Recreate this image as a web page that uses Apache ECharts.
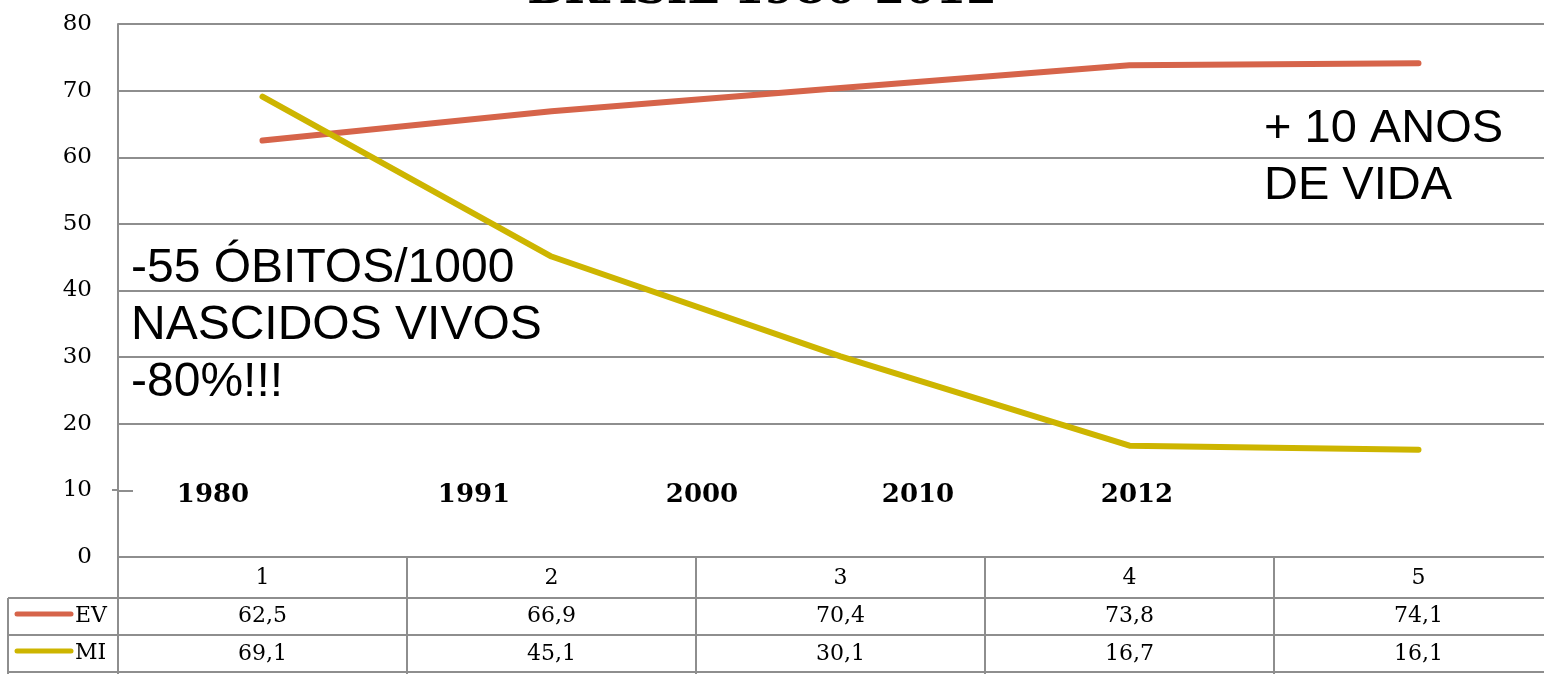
<!DOCTYPE html>
<html>
<head>
<meta charset="utf-8">
<script src="https://cdn.jsdelivr.net/npm/echarts@6/dist/echarts.min.js"></script>
<style>html,body{margin:0;padding:0;background:#fff}#c{width:1544px;height:674px}</style>
</head>
<body>
<div id="c"></div>
<script>
const categories = ['1', '2', '3', '4', '5'];
const ev = [62.5, 66.9, 70.4, 73.8, 74.1];
const mi = [69.1, 45.1, 30.1, 16.7, 16.1];
const years = ['1980', '1991', '2000', '2010', '2012'];
const yTicks = {min: 0, max: 80, interval: 10};
const title = 'BRASIL 1980-2012';

const EVC = '#D6644A', MIC = '#CDB500', GRID = '#8E8E8E';
const serif = '"DejaVu Serif", "Liberation Serif", serif';
const sans = '"Liberation Sans", Arial, sans-serif';
const fmt = v => String(v).replace('.', ',');

const chart = echarts.init(document.getElementById('c'));
const yearX = [213, 474, 702, 918, 1137];

const graphics = [
  {type: 'text', style: {text: title, x: 762, y: 14, align: 'center', verticalAlign: 'bottom', font: 'bold 44px ' + serif, fill: '#000'}},
  {type: 'rect', shape: {x: 133, y: 482, width: 1411, height: 18}, style: {fill: '#fff'}, z: 10},
  {type: 'line', shape: {x1: 112, y1: 490, x2: 118, y2: 490}, style: {stroke: GRID, lineWidth: 2}, z: 10},
  {type: 'line', shape: {x1: 8, y1: 598, x2: 1544, y2: 598}, style: {stroke: GRID, lineWidth: 2}, z: 10},
  {type: 'line', shape: {x1: 8, y1: 635, x2: 1544, y2: 635}, style: {stroke: GRID, lineWidth: 2}, z: 10},
  {type: 'line', shape: {x1: 8, y1: 672, x2: 1544, y2: 672}, style: {stroke: GRID, lineWidth: 2}, z: 10},
  {type: 'line', shape: {x1: 8, y1: 598, x2: 8, y2: 674}, style: {stroke: GRID, lineWidth: 2}, z: 10},
  {type: 'line', shape: {x1: 17, y1: 614, x2: 71, y2: 614}, style: {stroke: EVC, lineWidth: 5, lineCap: 'round'}, z: 10},
  {type: 'line', shape: {x1: 17, y1: 651, x2: 71, y2: 651}, style: {stroke: MIC, lineWidth: 5, lineCap: 'round'}, z: 10},
  {type: 'text', style: {text: 'EV', x: 75, y: 616, verticalAlign: 'middle', font: '22px ' + serif, fill: '#000'}, z: 10},
  {type: 'text', style: {text: 'MI', x: 75, y: 653, verticalAlign: 'middle', font: '22px ' + serif, fill: '#000'}, z: 10},
  {type: 'text', style: {text: '-55 ÓBITOS/1000\nNASCIDOS VIVOS\n-80%!!!', x: 131, y: 240, lineHeight: 57, font: '48px ' + sans, fill: '#000'}, z: 10},
  {type: 'text', style: {text: '+ 10 ANOS\nDE VIDA', x: 1264, y: 101, lineHeight: 57, font: '47px ' + sans, fill: '#000'}, z: 10}
];
years.forEach((y, i) => graphics.push({type: 'text', style: {text: y, x: yearX[i], y: 495, align: 'center', verticalAlign: 'middle', font: 'bold 26px ' + serif, fill: '#000'}, z: 11}));

chart.setOption({
  animation: false,
  grid: {left: 118, top: 24, width: 1445, height: 533, outerBoundsMode: 'none', containLabel: false},
  xAxis: {
    type: 'category', data: categories, boundaryGap: true,
    axisLine: {show: true, lineStyle: {color: GRID, width: 2}},
    axisTick: {show: true, length: 118, lineStyle: {color: GRID, width: 2}},
    axisLabel: {
      margin: 2, lineHeight: 38, fontFamily: serif, fontSize: 22, color: '#000', interval: 0,
      formatter: (v, i) => v + '\n' + fmt(ev[i]) + '\n' + fmt(mi[i])
    }
  },
  yAxis: {
    type: 'value', min: yTicks.min, max: yTicks.max, interval: yTicks.interval,
    axisLine: {show: true, lineStyle: {color: GRID, width: 2}},
    axisTick: {show: false},
    splitLine: {show: true, lineStyle: {color: GRID, width: 2}},
    axisLabel: {margin: 26, fontFamily: serif, fontSize: 23, color: '#000'}
  },
  series: [
    {name: 'EV', type: 'line', data: ev, symbol: 'none', lineStyle: {color: EVC, width: 6, cap: 'round'}, z: 5},
    {name: 'MI', type: 'line', data: mi, symbol: 'none', lineStyle: {color: MIC, width: 6, cap: 'round'}, z: 6}
  ],
  graphic: graphics
});
</script>
</body>
</html>
